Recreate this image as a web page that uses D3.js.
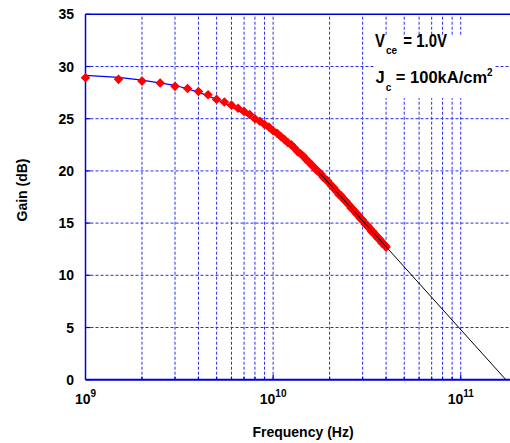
<!DOCTYPE html>
<html>
<head>
<meta charset="utf-8">
<script src="https://cdn.jsdelivr.net/npm/d3@7"></script>
<style>
  body { margin: 0; background: #fff; }
  svg { display: block; font-family: Arial, "Liberation Sans", sans-serif; font-weight: bold; }
</style>
</head>
<body>
<svg id="chart" width="510" height="443"></svg>
<script>
'use strict';

// ─── Data ────────────────────────────────────────────────────────────────────
// measured gain, frequency in GHz
const measFreqGHz = [
  1, 1.5, 2, 2.5, 3, 3.5, 4, 4.5, 5, 5.5, 6, 6.5, 7, 7.5,
  8, 8.5, 9, 9.5, 10, 10.5, 11, 11.5, 12, 12.5, 13, 13.5, 14, 14.5, 15, 15.5,
  16, 16.5, 17, 17.5, 18, 18.5, 19, 19.5, 20, 20.5, 21, 21.5, 22, 22.5, 23, 23.5,
  24, 24.5, 25, 25.5, 26, 26.5, 27, 27.5, 28, 28.5, 29, 29.5, 30, 30.5, 31, 31.5,
  32, 32.5, 33, 33.5, 34, 34.5, 35, 35.5, 36, 36.5, 37, 37.5, 38, 38.5, 39, 39.5, 40
];
const measGainDb = [
  28.93, 28.77, 28.6, 28.42, 28.1, 27.9, 27.6, 27.3, 26.85, 26.6, 26.3, 26.0, 25.7, 25.4,
  25.0, 24.75, 24.45, 24.2, 23.85, 23.6, 23.3, 23.0, 22.7, 22.5, 22.2, 21.85, 21.65, 21.4, 21.1, 20.85,
  20.6, 20.35, 20.1, 19.9, 19.7, 19.4, 19.2, 19.05, 18.8, 18.55, 18.4, 18.15, 17.95, 17.7, 17.65, 17.4,
  17.2, 17.1, 16.85, 16.7, 16.45, 16.35, 16.2, 16.0, 15.85, 15.75, 15.5, 15.4, 15.3, 15.1, 14.9, 14.8,
  14.75, 14.55, 14.4, 14.2, 14.2, 14.0, 13.85, 13.8, 13.6, 13.5, 13.45, 13.3, 13.1, 13.05, 12.95, 12.85, 12.7
];

// model fit (blue) and -20 dB/dec extrapolation (black)
const fitFreqGHz = [1, 1.5, 2, 3, 4, 5, 6, 8, 10, 13, 17.5];
const fitGainDb  = [29.15, 28.95, 28.7, 28.2, 27.55, 26.85, 26.15, 24.85, 23.6, 21.9, 19.9];
const rollFreqGHz = [17.5, 174];
const rollGainDb  = [19.9, 0];

const yTicks = [0, 5, 10, 15, 20, 25, 30, 35];
const xMajor = [1e9, 1e10, 1e11];
const xMajorExp = ['9', '10', '11'];

// ─── Scales ──────────────────────────────────────────────────────────────────
const svg = d3.select('#chart');
const x = d3.scaleLog().domain([1e9, 2e11]).range([85.5, 517.2]);
const y = d3.scaleLinear().domain([0, 35]).range([379.7, 14.3]);

const BLUE = '#0000d8';
const GRID = '#2a2af0';

// ─── Grid ────────────────────────────────────────────────────────────────────
const gridX = x.ticks().filter(f => f > 1e9 && f < 2e11);
svg.append('g').selectAll('line').data(gridX).join('line')
  .attr('x1', d => x(d)).attr('x2', d => x(d))
  .attr('y1', y(0)).attr('y2', y(35))
  .attr('stroke', GRID).attr('stroke-width', 1)
  .attr('stroke-dasharray', '3,2');

svg.append('g').selectAll('line').data(yTicks.filter(t => t > 0 && t < 35)).join('line')
  .attr('x1', x(1e9)).attr('x2', 510)
  .attr('y1', d => y(d)).attr('y2', d => y(d))
  .attr('stroke', GRID).attr('stroke-width', 1)
  .attr('stroke-dasharray', '3,2');

// white box behind the annotation
svg.append('rect')
  .attr('x', 374).attr('y', 36).attr('width', 120).attr('height', 62)
  .attr('fill', '#fff');

// ─── Frame + ticks ───────────────────────────────────────────────────────────
svg.append('line')
  .attr('x1', x(1e9)).attr('x2', x(1e9)).attr('y1', y(0)).attr('y2', y(35))
  .attr('stroke', BLUE).attr('stroke-width', 1.5);
svg.append('line')
  .attr('x1', x(1e9)).attr('x2', 510).attr('y1', y(35)).attr('y2', y(35))
  .attr('stroke', BLUE).attr('stroke-width', 1.5);
svg.append('line')
  .attr('x1', x(1e9)).attr('x2', 510).attr('y1', y(0)).attr('y2', y(0))
  .attr('stroke', BLUE).attr('stroke-width', 2);

svg.append('g').selectAll('line').data(yTicks).join('line')
  .attr('x1', x(1e9)).attr('x2', x(1e9) + 5)
  .attr('y1', d => y(d)).attr('y2', d => y(d))
  .attr('stroke', BLUE).attr('stroke-width', 1.2);
svg.append('g').selectAll('line').data(gridX).join('line')
  .attr('x1', d => x(d)).attr('x2', d => x(d))
  .attr('y1', y(0)).attr('y2', d => y(0) - (xMajor.includes(d) ? 5 : 3))
  .attr('stroke', BLUE).attr('stroke-width', 1.2);

// ─── Tick labels ─────────────────────────────────────────────────────────────
svg.append('g').selectAll('text').data(yTicks).join('text')
  .attr('x', 74).attr('y', d => y(d))
  .attr('dy', '0.36em')
  .attr('text-anchor', 'end')
  .attr('font-size', 14)
  .attr('fill', '#000')
  .text(d => d);

const xl = svg.append('g').selectAll('text').data(xMajor).join('text')
  .attr('x', d => x(d)).attr('y', 404)
  .attr('text-anchor', 'middle')
  .attr('font-size', 14)
  .attr('fill', '#000');
xl.append('tspan').text('10');
xl.append('tspan').attr('dy', -7).attr('font-size', 10).text((d, i) => xMajorExp[i]);

// ─── Axis titles ─────────────────────────────────────────────────────────────
svg.append('text')
  .attr('transform', 'translate(26.5,190) rotate(-90)')
  .attr('text-anchor', 'middle')
  .attr('font-size', 14)
  .attr('fill', '#000')
  .text('Gain (dB)');

svg.append('text')
  .attr('x', 303).attr('y', 437)
  .attr('text-anchor', 'middle')
  .attr('font-size', 14)
  .attr('fill', '#000')
  .text('Frequency (Hz)');

// ─── Lines ───────────────────────────────────────────────────────────────────
const line = d3.line().x(d => x(d[0] * 1e9)).y(d => y(d[1]));

svg.append('path')
  .attr('d', line(d3.zip(fitFreqGHz, fitGainDb)))
  .attr('fill', 'none').attr('stroke', '#0000ff').attr('stroke-width', 1.2);

// ─── Markers ─────────────────────────────────────────────────────────────────
const diamond = d3.symbol().type(d3.symbolSquare).size(46);
svg.append('g').selectAll('path').data(d3.zip(measFreqGHz, measGainDb)).join('path')
  .attr('d', diamond)
  .attr('transform', d => `translate(${x(d[0] * 1e9)},${y(d[1])}) rotate(45)`)
  .attr('fill', '#ff0000');

svg.append('path')
  .attr('d', line(d3.zip(rollFreqGHz, rollGainDb)))
  .attr('fill', 'none').attr('stroke', '#000').attr('stroke-width', 1);

// ─── Annotation ──────────────────────────────────────────────────────────────
const a1 = svg.append('text')
  .attr('transform', 'translate(375,47.3) scale(1,1.18)')
  .attr('font-size', 15).attr('fill', '#000');
a1.append('tspan').text('V');
a1.append('tspan').attr('dy', 6).attr('dx', 1).attr('font-size', 10).text('ce');
a1.append('tspan').attr('dy', -6).attr('dx', 2).text(' = 1.0V');

const a2 = svg.append('text')
  .attr('transform', 'translate(375.5,83.3)')
  .attr('font-size', 16.5).attr('fill', '#000');
a2.append('tspan').text('J');
a2.append('tspan').attr('dy', 8).attr('dx', 1).attr('font-size', 10).text('c');
a2.append('tspan').attr('dy', -8).text(' = 100kA/cm');
a2.append('tspan').attr('dy', -7).attr('font-size', 10).text('2');
</script>
</body>
</html>
